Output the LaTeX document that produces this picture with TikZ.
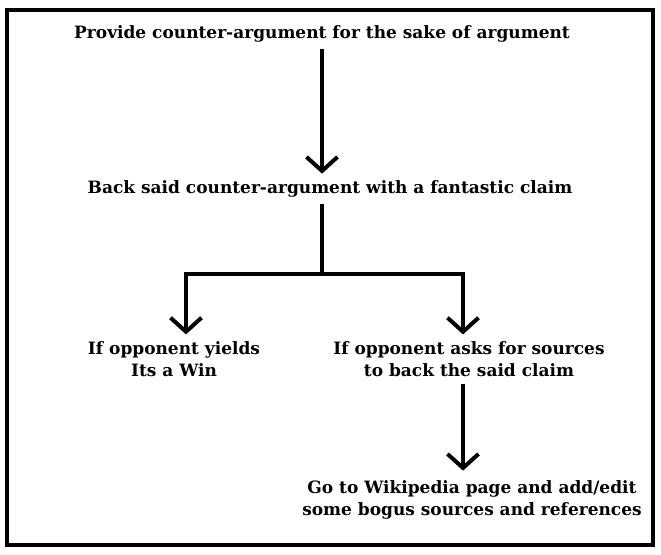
\documentclass[tikz,border=0pt]{standalone}
\usepackage{fontspec}
\setmainfont{DejaVu Serif}
\usetikzlibrary{arrows.meta}
\tikzset{
  steptext/.style={font=\fontsize{17}{22}\selectfont\bfseries, align=center, inner sep=0pt, outer sep=7pt},
  link/.style={line width=4pt},
  arr/.style={link, -{Straight Barb[length=14pt, width=31pt]}}
}
\begin{document}
\begin{tikzpicture}[x=1pt, y=-1pt]
  \useasboundingbox (0,0) rectangle (661,554);
  % moldura
  \draw[line width=4.5pt] (7,10) rectangle (653,545);
  % passos
  \node[steptext] (provide) at (322,34) {Provide counter-argument for the sake of argument};
  \node[steptext] (back) at (330,189) {Back said counter-argument with a fantastic claim};
  \node[steptext] (yield) at (174,359) {If opponent yields\\Its a Win};
  \node[steptext] (asks) at (469,359) {If opponent asks for sources\\to back the said claim};
  \node[steptext] (wiki) at (472,500) {Go to Wikipedia page and add/edit\\some bogus sources and references};
  % ramos
  \coordinate (fork) at (322,274);
  \coordinate (lt) at (186,274);
  \coordinate (rt) at (463,274);
  \draw[arr] (provide.south -| fork) -- (back.north -| fork);
  \draw[link] (back.south -| fork) -- (fork);
  \draw[link] ([xshift=-2pt]lt) -- ([xshift=2pt]rt);
  \draw[arr] (lt) -- (lt |- yield.north);
  \draw[arr] (rt) -- (rt |- asks.north);
  \draw[arr, shorten >=3pt] (asks.south -| rt) -- (wiki.north -| rt);
\end{tikzpicture}
\end{document}
